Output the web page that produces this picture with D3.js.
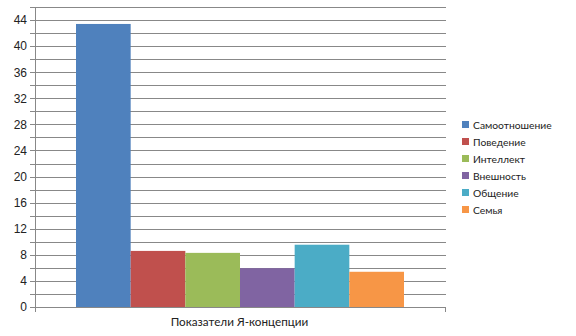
<!DOCTYPE html>
<html lang="ru">
<head>
<meta charset="UTF-8">
<script src="https://d3js.org/d3.v7.min.js"></script>
<style>
  body { margin: 0; background: #fff; }
  .tick-label { font-family: "Liberation Sans", Arial, sans-serif; font-size: 12px; fill: #222; }
  .cat-label { font-family: Lato, "Open Sans", sans-serif; font-size: 11.7px; fill: #222; }
  .legend text { font-family: Lato, "Open Sans", sans-serif; font-size: 10.3px; fill: #222; }
</style>
</head>
<body>
<svg id="chart" width="576" height="336"></svg>
<script>
  // chart data
  const category = "Показатели Я-концепции";
  const series = ["Самоотношение", "Поведение", "Интеллект", "Внешность", "Общение", "Семья"];
  const values = [43.4, 8.6, 8.3, 5.95, 9.55, 5.4];
  const colors = ["#4f81bd", "#c0504d", "#9bbb59", "#8064a2", "#4bacc6", "#f79646"];
  const yTicks = [0, 4, 8, 12, 16, 20, 24, 28, 32, 36, 40, 44];

  const svg = d3.select("#chart");
  const plot = { left: 35, right: 446, top: 7, bottom: 307 };

  const y = d3.scaleLinear().domain([0, 46]).range([plot.bottom, plot.top]);
  const x0 = d3.scaleBand().domain([category]).range([plot.left, plot.right]);
  const x1 = d3.scaleBand().domain(series).range([76, 404]);

  // gridlines every 2 units
  const grid = d3.range(0, 47, 2);
  svg.append("g").selectAll("line")
    .data(grid)
    .join("line")
    .attr("x1", plot.left - 5).attr("x2", plot.right)
    .attr("y1", d => Math.round(y(d)) + 0.5).attr("y2", d => Math.round(y(d)) + 0.5)
    .attr("stroke", "#888").attr("stroke-width", 1);

  // bars
  svg.append("g").selectAll("rect")
    .data(series)
    .join("rect")
    .attr("x", d => x1(d))
    .attr("width", x1.bandwidth())
    .attr("y", (d, i) => y(values[i]))
    .attr("height", (d, i) => y(0) - y(values[i]))
    .attr("fill", (d, i) => colors[i]);

  // axes lines
  svg.append("line")
    .attr("x1", plot.left + 0.5).attr("x2", plot.left + 0.5)
    .attr("y1", plot.top).attr("y2", plot.bottom + 5)
    .attr("stroke", "#888");
  svg.append("line")
    .attr("x1", plot.left).attr("x2", plot.right)
    .attr("y1", Math.round(y(0)) + 0.5).attr("y2", Math.round(y(0)) + 0.5)
    .attr("stroke", "#888");
  svg.append("line")
    .attr("x1", plot.right - 0.5).attr("x2", plot.right - 0.5)
    .attr("y1", plot.bottom).attr("y2", plot.bottom + 5)
    .attr("stroke", "#888");

  // y tick labels
  svg.append("g").selectAll("text")
    .data(yTicks)
    .join("text")
    .attr("class", "tick-label")
    .attr("x", 27)
    .attr("y", d => y(d))
    .attr("dy", "0.36em")
    .attr("text-anchor", "end")
    .text(d => d);

  // category label
  svg.append("text")
    .attr("class", "cat-label")
    .attr("x", x0(category) + x0.bandwidth() / 2 - 1)
    .attr("y", 326)
    .attr("text-anchor", "middle")
    .text(category);

  // legend
  const legend = svg.append("g").attr("class", "legend")
    .attr("transform", "translate(462,121)");
  const item = legend.selectAll("g")
    .data(series)
    .join("g")
    .attr("transform", (d, i) => `translate(0,${i * 17})`);
  item.append("rect")
    .attr("width", 7).attr("height", 7)
    .attr("fill", (d, i) => colors[i]);
  item.append("text")
    .attr("x", 11).attr("y", 4)
    .attr("dy", "0.35em")
    .text(d => d);
</script>
</body>
</html>
